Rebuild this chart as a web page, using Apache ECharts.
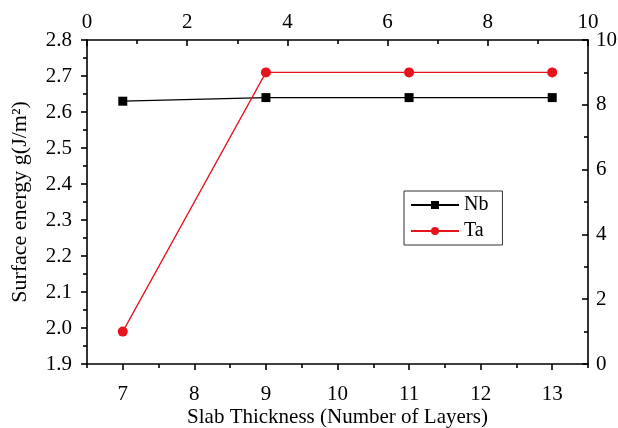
<!DOCTYPE html>
<html>
<head>
<meta charset="utf-8">
<script src="https://cdn.jsdelivr.net/npm/echarts@6/dist/echarts.min.js"></script>
<style>html,body{margin:0;padding:0;background:#fff}#c{width:618px;height:428px}</style>
</head>
<body>
<div id="c"></div>
<script>
var layers = [7, 9, 11, 13];
var nbValues = [2.63, 2.64, 2.64, 2.64];
var taValues = [1.99, 2.71, 2.71, 2.71];
var bottomTicks = [7, 8, 9, 10, 11, 12, 13];
var bottomMinorTicks = [6.5, 7.5, 8.5, 9.5, 10.5, 11.5, 12.5, 13.5];

var F = '"Liberation Serif", "DejaVu Serif", serif';
var FS = 21;
var chart = echarts.init(document.getElementById('c'));
var lineStyle = {color: '#000', width: 1.6};
chart.setOption({
  animation: false,
  backgroundColor: '#fff',
  grid: {left: 87, right: 30, top: 40, bottom: 64, containLabel: false, outerBoundsMode: 'none'},
  legend: {
    left: 404, top: 191, orient: 'vertical',
    padding: [4, 14, 4, 6], itemGap: 6, itemWidth: 48, itemHeight: 10,
    borderColor: '#333', borderWidth: 1,
    textStyle: {fontFamily: F, fontSize: 20, color: '#000'},
    data: ['Nb', 'Ta']
  },
  xAxis: [
    {
      type: 'value', position: 'bottom', min: 6.5, max: 13.5,
      name: 'Slab Thickness (Number of Layers)', nameLocation: 'middle', nameGap: 43,
      nameMoveOverlap: false,
      nameTextStyle: {fontFamily: F, fontSize: FS, color: '#000'},
      axisLine: {lineStyle: lineStyle},
      axisTick: {show: true, inside: false, length: 6, lineStyle: lineStyle, customValues: bottomTicks},
      axisLabel: {fontFamily: F, fontSize: FS, color: '#000', margin: 20, customValues: bottomTicks},
      splitLine: {show: false}
    },
    {
      type: 'value', position: 'top', min: 0, max: 10, interval: 2,
      axisLine: {lineStyle: lineStyle},
      axisTick: {show: true, inside: true, length: 6, lineStyle: lineStyle},
      minorTick: {show: true, splitNumber: 2, length: 4, lineStyle: lineStyle},
      axisLabel: {fontFamily: F, fontSize: FS, color: '#000', margin: 7},
      splitLine: {show: false}
    },
    {
      type: 'value', position: 'bottom', min: 6.5, max: 13.5,
      axisLine: {show: false},
      axisTick: {show: true, inside: false, length: 4, lineStyle: lineStyle, customValues: bottomMinorTicks},
      axisLabel: {show: false, customValues: bottomMinorTicks},
      splitLine: {show: false}
    }
  ],
  yAxis: [
    {
      type: 'value', position: 'left', min: 1.9, max: 2.8, interval: 0.1,
      name: 'Surface energy g(J/m\u00B2)', nameLocation: 'middle', nameGap: 56,
      nameMoveOverlap: false,
      nameTextStyle: {fontFamily: F, fontSize: 22, color: '#000'},
      axisLine: {show: true, lineStyle: lineStyle},
      axisTick: {show: true, inside: false, length: 6, lineStyle: lineStyle},
      minorTick: {show: true, splitNumber: 2, length: 4, lineStyle: lineStyle},
      axisLabel: {fontFamily: F, fontSize: FS, color: '#000', margin: 15,
        formatter: function (v) { return v.toFixed(1); }},
      splitLine: {show: false}
    },
    {
      type: 'value', position: 'right', min: 0, max: 10, interval: 2,
      axisLine: {show: true, lineStyle: lineStyle},
      axisTick: {show: true, inside: true, length: 6, lineStyle: lineStyle},
      minorTick: {show: true, splitNumber: 2, length: 4, lineStyle: lineStyle},
      axisLabel: {fontFamily: F, fontSize: FS, color: '#000', margin: 8},
      splitLine: {show: false}
    }
  ],
  series: [
    {
      name: 'Nb', type: 'line', xAxisIndex: 0, yAxisIndex: 0,
      data: layers.map(function (x, i) { return [x, nbValues[i]]; }),
      symbol: 'rect', symbolSize: 9,
      itemStyle: {color: '#000'}, lineStyle: {color: '#000', width: 1.3}
    },
    {
      name: 'Ta', type: 'line', xAxisIndex: 0, yAxisIndex: 0,
      data: layers.map(function (x, i) { return [x, taValues[i]]; }),
      symbol: 'circle', symbolSize: 10,
      itemStyle: {color: '#e8141c'}, lineStyle: {color: '#e8141c', width: 1.3}
    }
  ]
});
</script>
</body>
</html>
